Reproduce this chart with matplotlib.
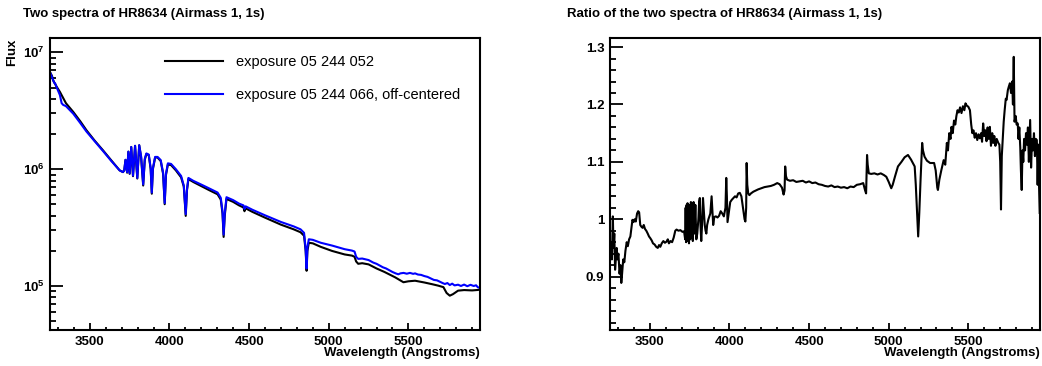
import numpy as np
import matplotlib
matplotlib.use("Agg")
import matplotlib.pyplot as plt
from matplotlib.ticker import MultipleLocator, LogLocator, NullFormatter, FuncFormatter

plt.rcParams['font.family'] = ['Liberation Sans', 'DejaVu Sans']
plt.rcParams['mathtext.fontset'] = 'custom'
plt.rcParams['mathtext.rm'] = 'Liberation Sans:bold'
plt.rcParams['mathtext.bf'] = 'Liberation Sans:bold'
plt.rcParams['mathtext.default'] = 'bf'

# ---- data ----
# exposure 05 244 052 (black), log10 of flux
wl_black = [3250, 3262, 3270, 3290, 3312, 3350, 3396, 3440, 3479, 3530, 3583, 3635, 3687, 3708,
            3716, 3724, 3734, 3742, 3750, 3760, 3771, 3784, 3798, 3810, 3822, 3835, 3845, 3855,
            3870, 3882, 3889, 3896, 3910, 3925, 3945, 3960, 3970, 3978, 3990, 4010, 4040, 4073,
            4090, 4102, 4110, 4119, 4150, 4200, 4250, 4302, 4322, 4333, 4340, 4347, 4358, 4400,
            4437, 4465, 4471, 4478, 4520, 4600, 4700, 4780, 4823, 4845, 4855, 4861, 4866, 4875,
            4900, 4950, 5021, 5100, 5146, 5162, 5172, 5185, 5210, 5250, 5300, 5350, 5417, 5469,
            5500, 5542, 5600, 5650, 5687, 5720, 5740, 5760, 5780, 5812, 5850, 5900, 5937, 5950]
logflux_black = [6.83, 6.80, 6.76, 6.71, 6.662, 6.565, 6.49, 6.41, 6.333, 6.245, 6.161, 6.075, 5.99, 5.975,
                 5.99, 6.08, 5.97, 6.15, 5.96, 6.19, 5.94, 6.20, 5.92, 6.205, 6.10, 5.86, 6.08, 6.13,
                 6.12, 6.00, 5.79, 6.00, 6.10, 6.10, 6.07, 5.96, 5.70, 5.95, 6.04, 6.035, 5.99, 5.93,
                 5.85, 5.60, 5.82, 5.915, 5.89, 5.855, 5.82, 5.785, 5.74, 5.62, 5.42, 5.60, 5.745, 5.72,
                 5.69, 5.672, 5.64, 5.665, 5.635, 5.585, 5.525, 5.485, 5.46, 5.43, 5.30, 5.13, 5.30, 5.37,
                 5.365, 5.335, 5.30, 5.27, 5.26, 5.25, 5.21, 5.19, 5.195, 5.185, 5.15, 5.12, 5.074, 5.032,
                 5.04, 5.045, 5.03, 5.015, 5.003, 4.99, 4.94, 4.917, 4.93, 4.96, 4.965, 4.962, 4.966, 4.97]

# exposure 05 244 066, off-centered (blue), log10 of flux
wl_blue = [3250, 3262, 3276, 3282, 3292, 3312, 3323, 3333, 3350, 3396, 3440, 3479, 3530, 3583, 3635,
           3687, 3708, 3716, 3724, 3734, 3742, 3750, 3760, 3771, 3784, 3798, 3810, 3822, 3835, 3845,
           3855, 3870, 3882, 3889, 3896, 3910, 3925, 3945, 3960, 3970, 3978, 3990, 4010, 4040, 4073,
           4090, 4102, 4110, 4119, 4150, 4200, 4250, 4302, 4322, 4333, 4340, 4347, 4358, 4400, 4437,
           4465, 4471, 4478, 4520, 4600, 4700, 4780, 4823, 4845, 4855, 4861, 4866, 4875, 4900, 4950,
           5021, 5100, 5146, 5162, 5172, 5185, 5210, 5250, 5280, 5300, 5320, 5340, 5360, 5380, 5400,
           5420, 5437, 5450, 5470, 5490, 5510, 5530, 5542, 5560, 5580, 5600, 5620, 5640, 5660, 5680,
           5700, 5715, 5729, 5745, 5760, 5775, 5790, 5812, 5830, 5850, 5870, 5890, 5910, 5925, 5937, 5950]
logflux_blue = [6.83, 6.79, 6.74, 6.735, 6.70, 6.635, 6.565, 6.55, 6.54, 6.475, 6.395, 6.322, 6.24, 6.155, 6.07,
                5.99, 5.975, 5.99, 6.08, 5.975, 6.15, 5.965, 6.19, 5.945, 6.20, 5.925, 6.205, 6.11, 5.87, 6.09,
                6.135, 6.125, 6.01, 5.80, 6.01, 6.105, 6.105, 6.078, 5.97, 5.71, 5.96, 6.05, 6.045, 6.0, 5.942,
                5.86, 5.615, 5.83, 5.925, 5.90, 5.868, 5.835, 5.80, 5.755, 5.64, 5.44, 5.62, 5.76, 5.735, 5.705,
                5.69, 5.66, 5.682, 5.653, 5.605, 5.548, 5.51, 5.485, 5.455, 5.32, 5.15, 5.33, 5.40, 5.395, 5.37,
                5.346, 5.315, 5.303, 5.295, 5.25, 5.232, 5.235, 5.222, 5.20, 5.19, 5.175, 5.16, 5.15, 5.135, 5.12,
                5.108, 5.100, 5.108, 5.112, 5.105, 5.112, 5.104, 5.108, 5.098, 5.095, 5.085, 5.078, 5.065, 5.052, 5.048,
                5.035, 5.025, 5.017, 5.025, 5.008, 5.02, 5.005, 5.011, 5.0, 5.012, 4.998, 5.010, 5.0, 5.006, 4.988, 4.985]

# ratio of the two spectra
wl_ratio = [3250, 3256, 3262, 3268, 3272, 3277, 3282, 3287, 3292, 3297, 3303, 3310, 3316, 3321, 3326,
            3333, 3340, 3347, 3355, 3362, 3370, 3378, 3385, 3391, 3398, 3405, 3412, 3420, 3427, 3433,
            3440, 3447, 3455, 3462, 3470, 3478, 3487, 3495, 3503, 3512, 3520, 3530, 3540, 3550, 3558,
            3566, 3575, 3585, 3595, 3605, 3613, 3620, 3630, 3640, 3650, 3660, 3668, 3680, 3692, 3705,
            3715, 3722, 3725, 3728, 3731, 3734, 3737, 3740, 3743, 3746, 3750, 3754, 3758, 3762, 3766,
            3770, 3775, 3780, 3786, 3792, 3798, 3805, 3810, 3814, 3818, 3823, 3828, 3834, 3838, 3845,
            3850, 3855, 3860, 3868, 3880, 3888, 3892, 3898, 3905, 3915, 3925, 3935, 3945, 3955, 3965,
            3975, 3980, 3984, 3988, 3995, 4005, 4015, 4025, 4035, 4045, 4055, 4065, 4075, 4085, 4095,
            4100, 4105, 4108, 4112, 4118, 4125, 4135, 4150, 4165, 4180, 4200, 4220, 4240, 4260, 4280,
            4300, 4315, 4330, 4340, 4346, 4350, 4355, 4362, 4380, 4400, 4420, 4440, 4460, 4480, 4500,
            4520, 4540, 4560, 4580, 4600, 4620, 4640, 4660, 4680, 4700, 4720, 4740, 4760, 4780, 4800,
            4820, 4840, 4852, 4858, 4864, 4868, 4875, 4890, 4910, 4930, 4950, 4970, 4985, 5000, 5010,
            5016, 5025, 5040, 5058, 5080, 5100, 5121, 5140, 5163, 5170, 5178, 5185, 5192, 5200, 5210,
            5215, 5225, 5240, 5260, 5285, 5295, 5305, 5309, 5318, 5330, 5345, 5355, 5365, 5372, 5380,
            5388, 5394, 5402, 5410, 5418, 5425, 5432, 5440, 5448, 5457, 5466, 5475, 5482, 5490, 5500,
            5510, 5518, 5525, 5532, 5540, 5548, 5556, 5564, 5572, 5580, 5586, 5593, 5600, 5607, 5614,
            5621, 5628, 5635, 5642, 5650, 5656, 5663, 5670, 5678, 5688, 5695, 5700, 5705, 5710, 5716,
            5722, 5728, 5735, 5740, 5748, 5755, 5761, 5768, 5775, 5780, 5785, 5790, 5797, 5803, 5810,
            5815, 5820, 5826, 5830, 5835, 5840, 5845, 5850, 5856, 5862, 5868, 5874, 5880, 5888, 5894,
            5900, 5906, 5912, 5918, 5924, 5930, 5935, 5940, 5944, 5948]
ratio = [0.930, 0.960, 0.930, 1.005, 0.950, 0.975, 0.912, 0.930, 0.950, 0.930, 0.940, 0.905, 0.920, 0.889, 0.905,
         0.930, 0.925, 0.945, 0.960, 0.953, 0.965, 0.970, 0.985, 0.999, 0.995, 1.000, 0.996, 1.010, 1.014, 1.012,
         0.990, 0.987, 0.985, 0.990, 0.983, 0.980, 0.975, 0.970, 0.967, 0.963, 0.958, 0.956, 0.952, 0.950, 0.955,
         0.952, 0.958, 0.962, 0.959, 0.961, 0.965, 0.958, 0.962, 0.960, 0.968, 0.980, 0.982, 0.980, 0.981, 0.978,
         0.979, 0.965, 1.020, 0.960, 1.025, 0.962, 1.028, 0.970, 1.020, 0.958, 1.025, 0.965, 1.030, 0.970, 1.028,
         0.962, 1.030, 0.975, 1.025, 0.965, 0.975, 1.000, 1.031, 1.037, 0.990, 0.962, 0.990, 1.037, 1.020, 0.990,
         0.980, 0.975, 0.990, 1.000, 1.010, 1.040, 1.020, 0.990, 1.004, 1.005, 1.003, 1.006, 1.014, 1.010, 1.005,
         1.020, 1.072, 1.040, 0.995, 1.010, 1.030, 1.034, 1.037, 1.040, 1.038, 1.045, 1.046, 1.040, 1.020, 1.000,
         0.996, 1.020, 1.098, 1.060, 1.045, 1.042, 1.045, 1.048, 1.050, 1.052, 1.054, 1.056, 1.057, 1.058, 1.060,
         1.063, 1.061, 1.055, 1.043, 1.050, 1.092, 1.075, 1.069, 1.067, 1.068, 1.065, 1.066, 1.067, 1.064, 1.066,
         1.063, 1.064, 1.061, 1.060, 1.058, 1.057, 1.059, 1.056, 1.057, 1.055, 1.056, 1.054, 1.057, 1.056, 1.060,
         1.061, 1.063, 1.050, 1.045, 1.112, 1.095, 1.080, 1.079, 1.080, 1.078, 1.080, 1.077, 1.074, 1.065, 1.058,
         1.054, 1.060, 1.075, 1.092, 1.100, 1.108, 1.112, 1.104, 1.092, 1.060, 1.011, 0.970, 1.011, 1.069, 1.133,
         1.120, 1.109, 1.102, 1.098, 1.098, 1.085, 1.055, 1.051, 1.069, 1.085, 1.103, 1.095, 1.133, 1.120, 1.150,
         1.140, 1.161, 1.150, 1.172, 1.165, 1.180, 1.190, 1.186, 1.195, 1.185, 1.197, 1.190, 1.202, 1.198, 1.196,
         1.190, 1.165, 1.150, 1.155, 1.142, 1.150, 1.138, 1.148, 1.141, 1.150, 1.135, 1.167, 1.145, 1.155, 1.136,
         1.160, 1.140, 1.161, 1.128, 1.150, 1.133, 1.145, 1.128, 1.140, 1.133, 1.130, 1.100, 1.017, 1.110, 1.140,
         1.170, 1.190, 1.210, 1.208, 1.225, 1.232, 1.237, 1.220, 1.240, 1.200, 1.283, 1.170, 1.180, 1.165, 1.167,
         1.140, 1.160, 1.125, 1.085, 1.051, 1.120, 1.100, 1.140, 1.120, 1.150, 1.130, 1.160, 1.100, 1.173, 1.090,
         1.140, 1.120, 1.150, 1.110, 1.140, 1.138, 1.060, 1.130, 1.057, 1.011]

label_black = 'exposure 05 244 052'
label_blue = 'exposure 05 244 066, off-centered'

# ---- figure ----
fig = plt.figure(figsize=(10.42, 3.66), dpi=100)
ax1 = fig.add_axes([0.048, 0.0984, 0.4127, 0.798])
ax2 = fig.add_axes([0.5854, 0.0984, 0.4127, 0.798])

ax1.plot(wl_black, 10 ** np.array(logflux_black), color='black', lw=1.5, label=label_black)
ax1.plot(wl_blue, 10 ** np.array(logflux_blue), color='#0000ff', lw=1.5, label=label_blue)
ax1.set_yscale('log')
ax1.set_xlim(3250, 5950)
ax1.set_ylim(4.2e4, 1.33e7)
ax1.yaxis.set_major_locator(LogLocator(base=10))
ax1.yaxis.set_minor_locator(LogLocator(base=10, subs=np.arange(2, 10)))
ax1.yaxis.set_minor_formatter(NullFormatter())
ax1.yaxis.set_major_formatter(FuncFormatter(lambda v, p: r'$10^{%d}$' % round(np.log10(v))))

ax1.legend(loc='upper left', bbox_to_anchor=(0.267, 0.94), frameon=False, fontsize=10.5,
           handlelength=4.0, handletextpad=0.85, labelspacing=1.3, borderpad=0, borderaxespad=0)

ax2.plot(wl_ratio, ratio, color='black', lw=1.5)
ax2.set_xlim(3250, 5950)
ax2.set_ylim(0.807, 1.316)
ax2.yaxis.set_major_locator(MultipleLocator(0.1))
ax2.yaxis.set_minor_locator(MultipleLocator(0.02))
ax2.yaxis.set_major_formatter(FuncFormatter(lambda v, p: '%g' % round(v, 2)))

for ax in (ax1, ax2):
    ax.xaxis.set_major_locator(MultipleLocator(500))
    ax.xaxis.set_minor_locator(MultipleLocator(100))
    ax.tick_params(which='both', direction='in', top=False, right=False, width=1.3)
    ax.tick_params(axis='y', which='major', length=9, pad=4)
    ax.tick_params(axis='y', which='minor', length=4.5)
    ax.tick_params(axis='x', which='major', length=5, pad=4)
    ax.tick_params(axis='x', which='minor', length=2.5)
    for s in ax.spines.values():
        s.set_linewidth(1.5)
    for lab in ax.get_xticklabels() + ax.get_yticklabels():
        lab.set_fontweight('bold')
        lab.set_fontsize(9.5)

fig.text(0.022, 0.962, 'Two spectra of HR8634 (Airmass 1, 1s)', fontsize=9.5, fontweight='bold',
         ha='left', va='center')
fig.text(0.544, 0.962, 'Ratio of the two spectra of HR8634 (Airmass 1, 1s)', fontsize=9.5,
         fontweight='bold', ha='left', va='center')
fig.text(0.0115, 0.895, 'Flux', rotation=90, fontsize=9.5, fontweight='bold', ha='center', va='top')
fig.text(0.4607, 0.035, 'Wavelength (Angstroms)', fontsize=9.5, fontweight='bold', ha='right', va='center')
fig.text(0.998, 0.035, 'Wavelength (Angstroms)', fontsize=9.5, fontweight='bold', ha='right', va='center')

fig.savefig('out.png', dpi=100)
